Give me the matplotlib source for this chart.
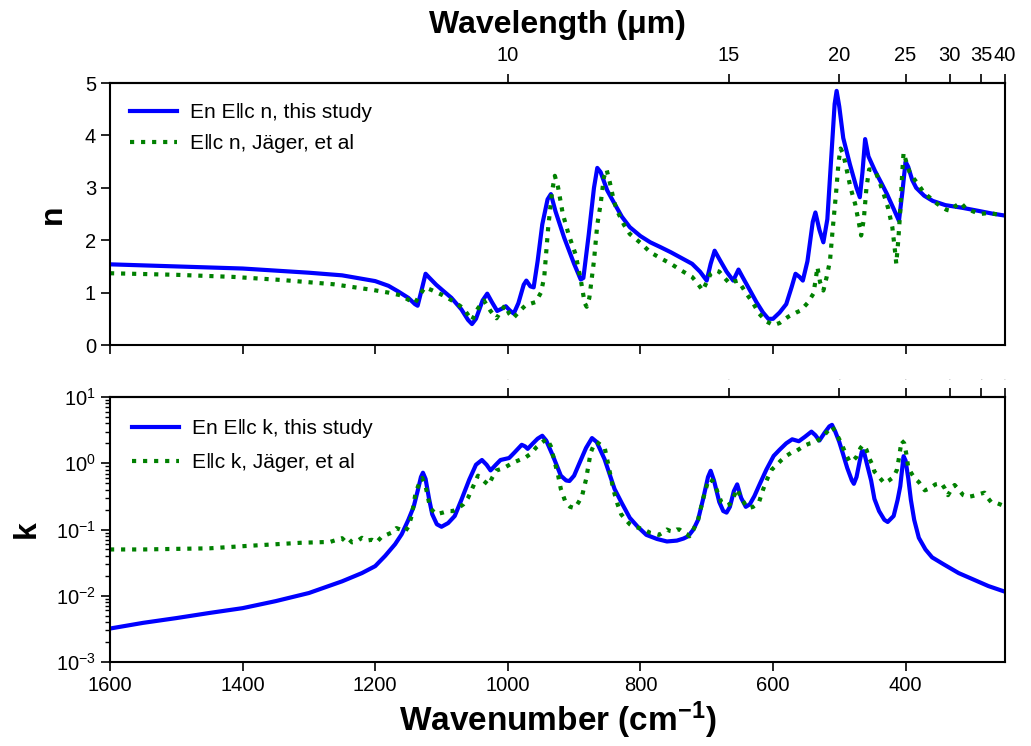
import numpy as np
import matplotlib
matplotlib.use("Agg")
import matplotlib.pyplot as plt
from matplotlib.ticker import LogLocator, NullFormatter

plt.rcParams['font.family'] = ['Liberation Sans', 'DejaVu Sans']
plt.rcParams['mathtext.fontset'] = 'custom'
plt.rcParams['mathtext.rm'] = 'Liberation Sans'
plt.rcParams['mathtext.it'] = 'Liberation Sans:italic'
plt.rcParams['mathtext.bf'] = 'Liberation Sans:bold'

# ---- refractive index n: enstatite E||c (this study) ----
wn_n_en = [1600, 1500, 1400, 1300, 1250, 1200, 1180, 1165, 1150, 1140, 1136, 1130,
           1124, 1118, 1108, 1098, 1085, 1070, 1060, 1054, 1048, 1038, 1031, 1024,
           1016, 1008, 1003, 997, 991, 984, 976, 972, 966, 961, 955, 948, 940, 935,
           928, 915, 900, 890, 886, 878, 870, 865, 860, 850, 840, 828, 816, 800, 785,
           770, 754, 738, 722, 710, 700, 694, 688, 680, 670, 660, 652, 646, 635, 625,
           615, 607, 600, 590, 580, 572, 566, 560, 555, 548, 540, 536, 530, 524, 518,
           512, 507, 504, 500, 494, 484, 474, 469, 465, 461, 456, 446, 436, 428, 418,
           410, 405, 400, 396, 390, 384, 372, 359, 340, 315, 290, 270, 250]
n_en = [1.54, 1.50, 1.46, 1.38, 1.33, 1.22, 1.13, 1.02, 0.90, 0.78, 0.75, 1.05,
        1.36, 1.28, 1.15, 1.04, 0.90, 0.68, 0.48, 0.40, 0.50, 0.85, 0.98, 0.82,
        0.65, 0.70, 0.74, 0.66, 0.60, 0.80, 1.15, 1.23, 1.12, 1.10, 1.60, 2.30, 2.78, 2.88,
        2.55, 2.05, 1.55, 1.25, 1.28, 2.10, 3.00, 3.38, 3.30, 2.95, 2.72, 2.45, 2.25, 2.08, 1.96,
        1.87, 1.77, 1.66, 1.55, 1.40, 1.23, 1.55, 1.80, 1.62, 1.40, 1.23, 1.44, 1.30, 1.05, 0.82,
        0.62, 0.50, 0.50, 0.62, 0.78, 1.10, 1.36, 1.30, 1.23, 1.60, 2.35, 2.53, 2.20, 1.96, 2.40,
        3.60, 4.60, 4.85, 4.55, 3.95, 3.45, 3.00, 2.82, 3.30, 3.93, 3.60, 3.32, 3.08, 2.88, 2.60,
        2.37, 2.90, 3.50, 3.40, 3.15, 3.00, 2.85, 2.75, 2.67, 2.62, 2.56, 2.51, 2.47]

# ---- refractive index n: E||c, Jäger et al ----
wn_n_jg = [1600, 1500, 1414, 1340, 1263, 1203, 1180, 1162, 1148, 1140, 1133, 1125,
           1115, 1098, 1080, 1067, 1054, 1045, 1036, 1026, 1017, 1010, 1004, 998, 992,
           982, 973, 958, 950, 945, 939, 933, 929, 924, 917, 908, 898, 890, 884, 881,
           877, 870, 865, 860, 855, 851, 846, 840, 835, 825, 816, 800, 785, 770, 754,
           738, 722, 714, 706, 700, 694, 686, 681, 673, 665, 659, 653, 646, 640, 630,
           621, 610, 599, 590, 577, 565, 558, 548, 539, 535, 533, 529, 524, 519, 514,
           510, 505, 501, 498, 494, 488, 483, 476, 470, 467, 463, 459, 455, 450, 445,
           439, 433, 426, 420, 416, 414, 411, 408, 405, 403, 399, 394, 389, 380, 372,
           364, 355, 345, 338, 332, 325, 317, 310, 300, 288, 275, 265, 252]
n_jg = [1.37, 1.34, 1.30, 1.24, 1.16, 1.05, 1.00, 0.95, 0.85, 0.80, 0.95, 1.10,
        1.05, 0.95, 0.82, 0.70, 0.47, 0.70, 0.85, 0.65, 0.51, 0.65, 0.76, 0.60, 0.51,
        0.65, 0.76, 0.82, 1.00, 1.30, 2.25, 2.95, 3.23, 3.00, 2.50, 2.10, 1.74, 1.25, 0.80, 0.73,
        0.90, 1.61, 2.30, 2.69, 3.20, 3.35, 3.10, 2.75, 2.56, 2.30, 2.12, 1.95, 1.77, 1.66, 1.55,
        1.42, 1.30, 1.18, 1.04, 1.20, 1.36, 1.42, 1.40, 1.28, 1.17, 1.21, 1.23, 1.10, 0.98, 0.80,
        0.60, 0.45, 0.38, 0.42, 0.54, 0.62, 0.66, 0.80, 0.98, 1.30, 1.49, 1.20, 1.04, 1.30, 1.61,
        2.20, 2.88, 3.50, 3.75, 3.65, 3.30, 3.00, 2.69, 2.30, 2.09, 2.40, 3.00, 3.35, 3.35, 3.30,
        3.10, 2.88, 2.60, 2.25, 1.80, 1.55, 2.00, 2.56, 3.30, 3.67, 3.50, 3.30, 3.20, 3.05, 2.90,
        2.82, 2.72, 2.63, 2.58, 2.56, 2.65, 2.72, 2.62, 2.56, 2.50, 2.52, 2.50, 2.47]

# ---- extinction coefficient k: enstatite E||c (this study) ----
wn_k_en = [1600, 1550, 1500, 1450, 1400, 1350, 1300, 1250, 1220, 1200, 1185, 1170,
           1160, 1150, 1142, 1136, 1131, 1128, 1124, 1119, 1114, 1107, 1100, 1090, 1080,
           1070, 1058, 1048, 1039, 1032, 1026, 1018, 1011, 998, 990, 979, 974, 970, 962,
           955, 948, 942, 932, 920, 912, 907, 900, 892, 882, 873, 866, 854, 839, 828,
           816, 804, 791, 775, 760, 745, 735, 728, 720, 713, 705, 698, 694, 689, 681,
           675, 670, 665, 659, 654, 648, 641, 635, 628, 621, 610, 599, 590, 580, 571,
           561, 552, 542, 536, 530, 522, 515, 511, 506, 500, 495, 488, 481, 478, 474,
           469, 466, 463, 458, 452, 447, 440, 432, 427, 418, 412, 408, 405, 403, 400,
           396, 392, 387, 380, 370, 360, 343, 320, 300, 275, 250]
k_en = [0.0032, 0.0039, 0.0046, 0.0055, 0.0065, 0.0083, 0.011, 0.0165, 0.022, 0.028, 0.040, 0.060,
        0.085, 0.14, 0.22, 0.38, 0.62, 0.72, 0.58, 0.30, 0.17, 0.12, 0.11, 0.125, 0.16,
        0.28, 0.57, 0.95, 1.12, 0.95, 0.78, 0.95, 1.12, 1.20, 1.45, 1.90, 1.80, 1.65, 2.00,
        2.35, 2.60, 2.20, 1.30, 0.65, 0.55, 0.54, 0.65, 1.00, 1.70, 2.40, 2.10, 1.15, 0.41, 0.25,
        0.15, 0.11, 0.083, 0.072, 0.066, 0.068, 0.073, 0.079, 0.10, 0.14, 0.30, 0.62, 0.77, 0.55, 0.26,
        0.19, 0.18, 0.22, 0.38, 0.48, 0.30, 0.22, 0.24, 0.32, 0.46, 0.80, 1.29, 1.60, 2.00, 2.30,
        2.15, 2.50, 3.00, 2.65, 2.20, 2.90, 3.60, 3.80, 3.00, 2.10, 1.45, 0.85, 0.55, 0.49, 0.62,
        1.10, 1.50, 1.52, 0.95, 0.55, 0.29, 0.19, 0.14, 0.13, 0.16, 0.28, 0.45, 0.85, 1.28, 1.10,
        0.60, 0.28, 0.14, 0.075, 0.050, 0.038, 0.030, 0.022, 0.018, 0.014, 0.0115]

# ---- extinction coefficient k: E||c, Jäger et al ----
wn_k_jg = [1600, 1550, 1500, 1450, 1400, 1350, 1313, 1268, 1250, 1245, 1240, 1235,
           1228, 1220, 1213, 1205, 1198, 1190, 1183, 1175, 1168, 1160, 1155, 1150, 1145,
           1139, 1132, 1129, 1124, 1117, 1108, 1098, 1090, 1083, 1075, 1067, 1060, 1054,
           1045, 1037, 1029, 1023, 1017, 1010, 1004, 992, 980, 973, 965, 957, 950, 941,
           935, 929, 924, 920, 913, 906, 899, 893, 888, 882, 875, 870, 866, 860, 854,
           848, 841, 835, 829, 822, 816, 810, 804, 795, 785, 778, 772, 766, 760, 755,
           750, 745, 741, 735, 730, 726, 720, 713, 705, 697, 691, 685, 678, 671, 665,
           660, 654, 648, 642, 637, 630, 621, 615, 608, 602, 596, 588, 580, 572, 564,
           558, 552, 544, 536, 530, 523, 517, 511, 506, 500, 494, 489, 484, 479, 474,
           468, 464, 459, 455, 450, 447, 440, 432, 425, 418, 413, 410, 406, 402, 399,
           396, 391, 386, 380, 371, 363, 355, 346, 341, 336, 331, 326, 320, 313, 306,
           299, 290, 281, 276, 271, 262, 253]
k_jg = [0.050, 0.050, 0.051, 0.052, 0.056, 0.060, 0.063, 0.065, 0.074, 0.066, 0.072, 0.064,
        0.066, 0.075, 0.068, 0.070, 0.064, 0.078, 0.083, 0.090, 0.105, 0.098, 0.093, 0.110, 0.16,
        0.36, 0.55, 0.60, 0.45, 0.21, 0.17, 0.18, 0.19, 0.19, 0.21, 0.24, 0.30, 0.41,
        0.65, 0.55, 0.47, 0.62, 0.78, 0.82, 0.87, 1.02, 1.15, 1.23, 1.40, 1.74, 2.00, 2.35,
        1.80, 1.02, 0.65, 0.41, 0.26, 0.22, 0.21, 0.26, 0.32, 0.57, 1.45, 1.90, 2.10, 1.90, 1.74,
        0.91, 0.41, 0.25, 0.17, 0.14, 0.12, 0.11, 0.107, 0.10, 0.089, 0.086, 0.083, 0.090, 0.10, 0.095,
        0.093, 0.10, 0.10, 0.090, 0.085, 0.079, 0.10, 0.14, 0.30, 0.58, 0.54, 0.40, 0.26, 0.23, 0.24,
        0.30, 0.41, 0.30, 0.24, 0.21, 0.22, 0.26, 0.40, 0.60, 0.80, 0.91, 1.10, 1.29, 1.45, 1.55,
        1.70, 1.86, 2.00, 2.09, 2.30, 2.63, 3.10, 3.60, 3.00, 2.30, 1.70, 1.30, 1.05, 1.10, 1.25,
        1.70, 1.90, 1.60, 1.20, 0.95, 0.75, 0.62, 0.50, 0.55, 0.62, 0.80, 1.20, 2.20, 2.00, 1.40,
        0.87, 0.70, 0.59, 0.52, 0.39, 0.42, 0.48, 0.50, 0.42, 0.33, 0.40, 0.47, 0.40, 0.33, 0.31,
        0.32, 0.34, 0.36, 0.30, 0.26, 0.25, 0.23]

wn_ticks = [1600, 1400, 1200, 1000, 800, 600, 400]
wl_ticks = [10, 15, 20, 25, 30, 35, 40]
wl_labels = ['10', '15', '20', '25', '30', '35', '40']


def wn_to_um(x):
    x = np.asarray(x, dtype=float)
    out = np.full_like(x, np.inf)
    np.divide(1e4, x, out=out, where=x != 0)
    return out


fig = plt.figure(figsize=(10.31, 7.46), dpi=100)
ax1 = fig.add_axes([0.1067, 0.5375, 0.8681, 0.3512])
ax2 = fig.add_axes([0.1067, 0.1126, 0.8681, 0.3552])

TICK_FS = 14.5
LABEL_FS = 23
LEGEND_FS = 15

tick_kw = dict(labelsize=TICK_FS, length=6.5, width=1.2)
for ax in (ax1, ax2):
    for sp in ax.spines.values():
        sp.set_linewidth(1.5)
    ax.set_xlim(1600, 250)
    ax.set_xticks(wn_ticks)
    ax.tick_params(which='major', **tick_kw)

legend_kw = dict(loc='upper left', frameon=False, fontsize=LEGEND_FS,
                 handlelength=2.25, handletextpad=0.65)

# upper panel: n
ax1.plot(wn_n_en, n_en, color='blue', lw=3, label='En E\u2016c n, this study')
ax1.plot(wn_n_jg, n_jg, color='green', lw=3, ls=':', label='E\u2016c n, J\u00e4ger, et al')
ax1.set_ylim(0, 5)
ax1.set_yticks([0, 1, 2, 3, 4, 5])
ax1.tick_params(axis='x', labelbottom=False)
ax1.set_ylabel('n', fontsize=LABEL_FS, fontweight='bold', labelpad=12)
ax1.legend(labelspacing=0.6, borderaxespad=0.55, **legend_kw)

top1 = ax1.secondary_xaxis('top', functions=(wn_to_um, wn_to_um))
top1.set_xticks(wl_ticks)
top1.set_xticklabels(wl_labels)
top1.tick_params(pad=6.5, **tick_kw)
top1.spines['top'].set_linewidth(1.5)
top1.set_xlabel('Wavelength (\u03bcm)', fontsize=LABEL_FS, fontweight='bold', labelpad=9)

# lower panel: k
ax2.semilogy(wn_k_en, k_en, color='blue', lw=3, label='En E\u2016c k, this study')
ax2.semilogy(wn_k_jg, k_jg, color='green', lw=3, ls=':', label='E\u2016c k, J\u00e4ger, et al')
ax2.set_ylim(1e-3, 1e1)
ax2.yaxis.set_major_locator(LogLocator(base=10, numticks=10))
ax2.yaxis.set_minor_locator(LogLocator(base=10, subs=np.arange(2, 10), numticks=20))
ax2.yaxis.set_minor_formatter(NullFormatter())
ax2.tick_params(axis='y', which='minor', length=3.5, width=1.0)
ax2.tick_params(axis='x', which='minor', bottom=False)
ax2.set_xticks(wn_ticks)
ax2.set_ylabel('k', fontsize=LABEL_FS, fontweight='bold', labelpad=10)
ax2.set_xlabel('Wavenumber (cm$^{\\mathbf{-1}}$)', fontsize=24, fontweight='bold', labelpad=3)
ax2.legend(labelspacing=0.72, borderaxespad=0.65, **legend_kw)

top2 = ax2.secondary_xaxis('top', functions=(wn_to_um, wn_to_um))
top2.set_xticks(wl_ticks)
top2.set_xticklabels(wl_labels)
top2.tick_params(length=6.5, width=1.2, labelsize=1, labelcolor='0.5', pad=6)
top2.spines['top'].set_linewidth(1.5)

fig.savefig('out.png', dpi=100)
